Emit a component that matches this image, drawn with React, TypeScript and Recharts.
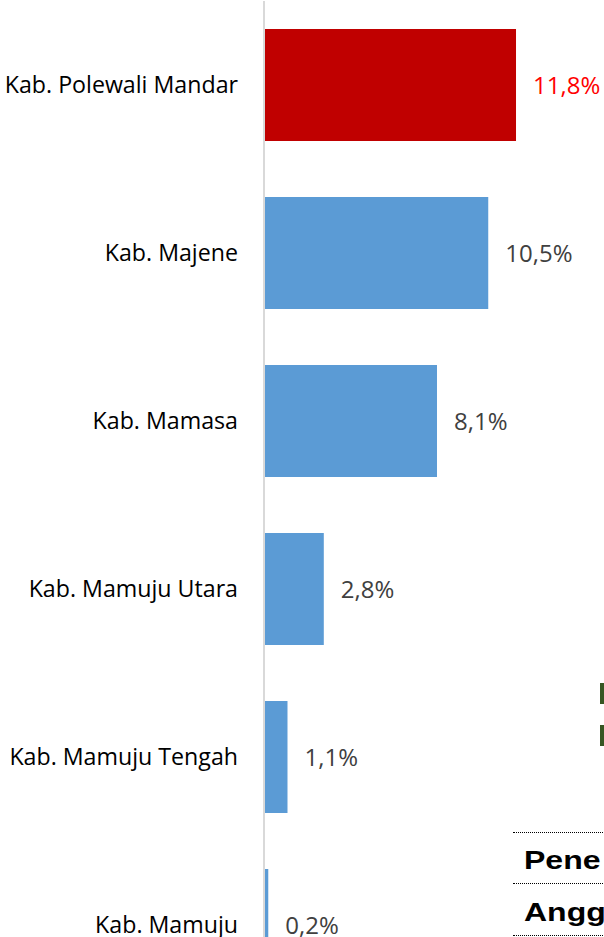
import { BarChart, Bar, XAxis, YAxis, Cell, LabelList } from "recharts";

const regions = [
  "Kab. Polewali Mandar",
  "Kab. Majene",
  "Kab. Mamasa",
  "Kab. Mamuju Utara",
  "Kab. Mamuju Tengah",
  "Kab. Mamuju",
];
const shares = [11.8, 10.5, 8.1, 2.8, 1.1, 0.2];
const highlight = "Kab. Polewali Mandar";

const data = regions.map((name, i) => ({ name, value: shares[i] }));

const font = "'Open Sans', sans-serif";

const fmt = (v: number) => v.toFixed(1).replace(".", ",") + "%";

function ValueLabel(props: any) {
  const { x, y, width, height, value, index } = props;
  const red = data[index]?.name === highlight;
  return (
    <text
      x={x + width + 17}
      y={y + height / 2}
      dy="0.36em"
      fill={red ? "#ff0000" : "#404040"}
      fontSize={24}
      fontFamily={font}
    >
      {fmt(value)}
    </text>
  );
}

const sideText = {
  position: "absolute" as const,
  left: 524,
  fontFamily: "'Liberation Sans', Arial, sans-serif",
  fontWeight: "bold" as const,
  fontSize: 25,
  lineHeight: "25px",
  whiteSpace: "nowrap" as const,
  transform: "scaleX(1.28)",
  transformOrigin: "left top",
};

export default function App() {
  return (
    <div
      style={{
        position: "absolute",
        left: 0,
        top: 0,
        width: 604,
        height: 937,
        overflow: "hidden",
        background: "#fff",
      }}
    >
      <BarChart
        width={604}
        height={1009}
        data={data}
        layout="vertical"
        margin={{ top: 1, right: 41, bottom: 0, left: 0 }}
      >
        <XAxis type="number" domain={[0, 14]} hide />
        <YAxis
          type="category"
          dataKey="name"
          width={264}
          tickLine={false}
          tickSize={0}
          tickMargin={26}
          axisLine={{ stroke: "#d9d9d9", strokeWidth: 2 }}
          tick={{ fill: "#000", fontSize: 23.2, fontFamily: font }}
          interval={0}
        />
        <Bar dataKey="value" barSize={112} isAnimationActive={false}>
          {data.map((d) => (
            <Cell key={d.name} fill={d.name === highlight ? "#c00000" : "#5b9bd5"} />
          ))}
          <LabelList dataKey="value" content={ValueLabel} />
        </Bar>
      </BarChart>

      {/* bits of the neighbouring page that show at the right edge */}
      <div style={{ position: "absolute", left: 600, top: 683, width: 6, height: 21, background: "#375623" }} />
      <div style={{ position: "absolute", left: 600, top: 725, width: 6, height: 21, background: "#375623" }} />
      <div style={{ position: "absolute", left: 513, top: 832, width: 100, borderTop: "1px dotted #000" }} />
      <div style={{ position: "absolute", left: 513, top: 883, width: 100, borderTop: "1px dotted #000" }} />
      <div style={{ position: "absolute", left: 513, top: 935, width: 100, borderTop: "1px dotted #000" }} />
      <div style={{ ...sideText, top: 848 }}>Pene</div>
      <div style={{ ...sideText, top: 900 }}>Angg</div>
    </div>
  );
}
